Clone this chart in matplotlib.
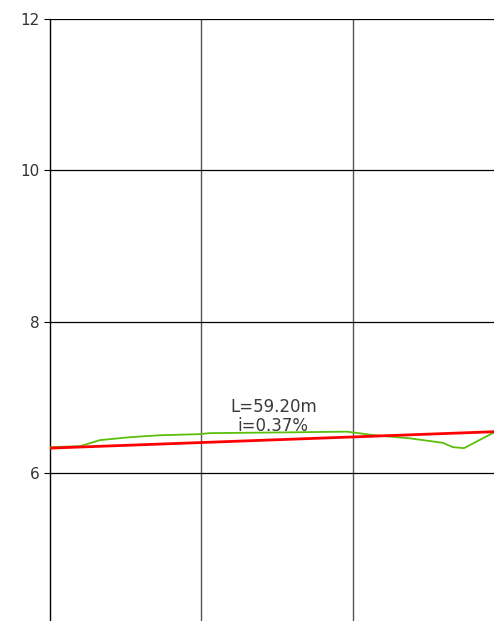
import matplotlib.pyplot as plt

# ground profile (green) and design grade line (red)
ground_x = [0, 4.0, 6.6, 10.6, 14.5, 19.8, 21.1, 27.7, 33.0, 39.2, 42.9, 47.5, 51.9, 53.2, 54.7, 58.7]
ground_y = [6.343, 6.356, 6.436, 6.475, 6.50, 6.515, 6.528, 6.535, 6.54, 6.548, 6.50, 6.46, 6.40, 6.343, 6.33, 6.54]

grade_x = [0, 59.2]
grade_y = [6.33, 6.549]

length_m = 59.20
slope_pct = 0.37

y_ticks = [6, 8, 10, 12]
x_grid = [20, 40]

fig = plt.figure(figsize=(4.94, 6.21), dpi=100)
ax = fig.add_axes([50 / 494, 0, 444 / 494, 602 / 621])

for gx in x_grid:
    ax.axvline(gx, color="#555555", lw=1.0, zorder=1)
for gy in y_ticks:
    ax.axhline(gy, color="black", lw=0.9, zorder=1)

ax.plot(ground_x, ground_y, color="#5cbf0a", lw=1.3, zorder=3)
ax.plot(grade_x, grade_y, color="#ff0000", lw=2.0, zorder=4)

ax.text(29.5, 6.505, f"L={length_m:.2f}m\ni={slope_pct:.2f}%", ha="center", va="bottom",
        fontsize=12, color="#3a3a3a", linespacing=1.05, zorder=5)

ax.set_xlim(0, 58.65)
ax.set_ylim(4.046, 12)
ax.set_yticks(y_ticks)
ax.set_xticks([])
ax.tick_params(axis="y", length=4, width=0.8, colors="black", labelcolor="#333333", labelsize=11)
for side in ["top", "right", "bottom"]:
    ax.spines[side].set_visible(False)
ax.spines["left"].set_linewidth(1.0)

fig.savefig("out.png", dpi=100)
